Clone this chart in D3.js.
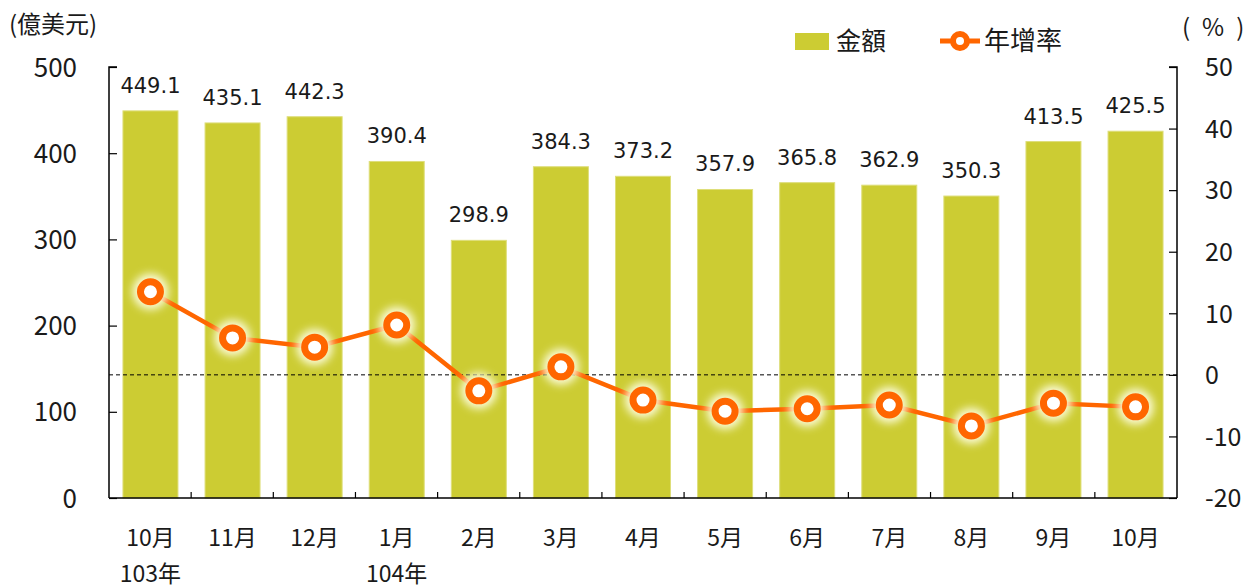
<!DOCTYPE html>
<html>
<head>
<meta charset="utf-8">
<script src="https://cdn.jsdelivr.net/npm/d3@7"></script>
<style>
  body { margin: 0; background: #fff; }
  svg text { font-family: "Noto Sans CJK TC", "Noto Sans", sans-serif; fill: #1a1a1a; }
  svg text.val { font-family: "DejaVu Sans", sans-serif; }
</style>
</head>
<body>
<div id="chart"></div>
<script>
const months = ['10月', '11月', '12月', '1月', '2月', '3月', '4月', '5月', '6月', '7月', '8月', '9月', '10月'];
const yearLabels = ['103年', '', '', '104年', '', '', '', '', '', '', '', '', ''];
const amounts = [449.1, 435.1, 442.3, 390.4, 298.9, 384.3, 373.2, 357.9, 365.8, 362.9, 350.3, 413.5, 425.5];
const growth = [13.5, 6.0, 4.5, 8.1, -2.6, 1.3, -4.1, -5.9, -5.5, -4.9, -8.3, -4.6, -5.2];
const leftTicks = [0, 100, 200, 300, 400, 500];
const rightTicks = [-20, -10, 0, 10, 20, 30, 40, 50];

const w = 1246, h = 588;
const pLeft = 109, pRight = 1177, pTop = 67, pBottom = 498;

const svg = d3.select('#chart').append('svg')
    .attr('width', w)
    .attr('height', h);

const defs = svg.append('defs');
defs.append('filter').attr('id', 'glow')
    .attr('x', '-100%').attr('y', '-100%').attr('width', '300%').attr('height', '300%')
    .append('feGaussianBlur').attr('stdDeviation', 4);

const x = d3.scaleBand()
    .domain(d3.range(months.length))
    .range([pLeft, pRight])
    .paddingInner(0.33)
    .paddingOuter(0.17);

const xBand = d3.scaleBand()
    .domain(d3.range(months.length))
    .range([pLeft, pRight]);

const yL = d3.scaleLinear().domain([0, 500]).range([pBottom, pTop]);
const yR = d3.scaleLinear().domain([-20, 50]).range([pBottom, pTop]);

// bars
svg.selectAll('rect.bar')
   .data(amounts)
   .enter()
   .append('rect')
   .attr('class', 'bar')
   .attr('x', (d, i) => x(i))
   .attr('y', d => yL(d))
   .attr('width', x.bandwidth())
   .attr('height', d => yL(0) - yL(d))
   .attr('fill', '#cccc33')
   .attr('stroke', '#dede7a')
   .attr('stroke-width', 1);

// value labels
svg.selectAll('text.val')
   .data(amounts)
   .enter()
   .append('text')
   .attr('class', 'val')
   .attr('x', (d, i) => x(i) + x.bandwidth() / 2)
   .attr('y', d => yL(d) - 18)
   .attr('text-anchor', 'middle')
   .style('font-size', '21px')
   .text(d => d.toFixed(1));

// zero line of right axis
svg.append('line')
   .attr('x1', pLeft).attr('x2', pRight)
   .attr('y1', yR(0)).attr('y2', yR(0))
   .attr('stroke', '#000')
   .attr('stroke-width', 1)
   .attr('stroke-dasharray', '4,3');

// axes
const axL = svg.append('g')
   .attr('transform', 'translate(' + pLeft + ',0)')
   .call(d3.axisRight(yL).tickValues(leftTicks).tickSize(8).tickFormat(d3.format('d')));
axL.selectAll('text').attr('x', -32).attr('text-anchor', 'end').style('font-size', '26px');

const axR = svg.append('g')
   .attr('transform', 'translate(' + pRight + ',0)')
   .call(d3.axisLeft(yR).tickValues(rightTicks).tickSize(8).tickFormat(d => String(d)));
axR.selectAll('text').attr('x', 28).attr('text-anchor', 'start').style('font-size', '25px');

[axL, axR].forEach(g => {
  g.select('.domain').attr('stroke', '#000').attr('stroke-width', 1.5);
  g.selectAll('.tick line').attr('stroke', '#000').attr('stroke-width', 1.2);
  g.selectAll('.tick text').attr('dy', '0.35em');
});
axL.select('.domain').attr('d', 'M8,' + pTop + 'H0V' + pBottom + 'H0');
axR.select('.domain').attr('d', 'M-8,' + pTop + 'H0V' + pBottom + 'H0');

// bottom axis
svg.append('line')
   .attr('x1', pLeft).attr('x2', pRight)
   .attr('y1', pBottom).attr('y2', pBottom)
   .attr('stroke', '#000').attr('stroke-width', 1.5);
svg.selectAll('line.xtick')
   .data(d3.range(1, months.length))
   .enter()
   .append('line')
   .attr('class', 'xtick')
   .attr('x1', d => xBand(d)).attr('x2', d => xBand(d))
   .attr('y1', pBottom).attr('y2', pBottom - 6)
   .attr('stroke', '#000').attr('stroke-width', 1.2);

svg.selectAll('text.month')
   .data(months)
   .enter()
   .append('text')
   .attr('class', 'month')
   .attr('x', (d, i) => x(i) + x.bandwidth() / 2)
   .attr('y', 546)
   .attr('text-anchor', 'middle')
   .style('font-size', '23px')
   .text(d => d);

svg.selectAll('text.year')
   .data(yearLabels)
   .enter()
   .append('text')
   .attr('class', 'year')
   .attr('x', (d, i) => x(i) + x.bandwidth() / 2)
   .attr('y', 582)
   .attr('text-anchor', 'middle')
   .style('font-size', '23px')
   .text(d => d);

// growth line
const line = d3.line()
   .x((d, i) => x(i) + x.bandwidth() / 2)
   .y(d => yR(d));

svg.append('path')
   .datum(growth)
   .attr('d', line)
   .attr('fill', 'none')
   .attr('stroke', '#ff6600')
   .attr('stroke-width', 4.5);

svg.selectAll('circle.glow')
   .data(growth)
   .enter()
   .append('circle')
   .attr('class', 'glow')
   .attr('cx', (d, i) => x(i) + x.bandwidth() / 2)
   .attr('cy', d => yR(d))
   .attr('r', 18)
   .attr('fill', '#fbfbd8')
   .attr('filter', 'url(#glow)');

svg.selectAll('circle.pt')
   .data(growth)
   .enter()
   .append('circle')
   .attr('class', 'pt')
   .attr('cx', (d, i) => x(i) + x.bandwidth() / 2)
   .attr('cy', d => yR(d))
   .attr('r', 10)
   .attr('fill', '#fff')
   .attr('stroke', '#ff6600')
   .attr('stroke-width', 7);

// axis titles
svg.append('text').attr('x', 9).attr('y', 33).style('font-size', '24px').text('(億美元)');
svg.append('text').attr('x', 1182).attr('y', 36).style('font-size', '24px')
   .style('white-space', 'pre').text('(\u2002%\u2002)');

// legend
svg.append('rect')
   .attr('x', 795).attr('y', 33).attr('width', 34).attr('height', 17)
   .attr('fill', '#cccc33');
svg.append('text').attr('x', 836).attr('y', 50).style('font-size', '25px').text('金額');
svg.append('line')
   .attr('x1', 940).attr('x2', 980).attr('y1', 41).attr('y2', 41)
   .attr('stroke', '#ff6600').attr('stroke-width', 5);
svg.append('circle')
   .attr('cx', 960).attr('cy', 41).attr('r', 7)
   .attr('fill', '#fff').attr('stroke', '#ff6600').attr('stroke-width', 6);
svg.append('text').attr('x', 984).attr('y', 50).style('font-size', '26px').text('年增率');
</script>
</body>
</html>
